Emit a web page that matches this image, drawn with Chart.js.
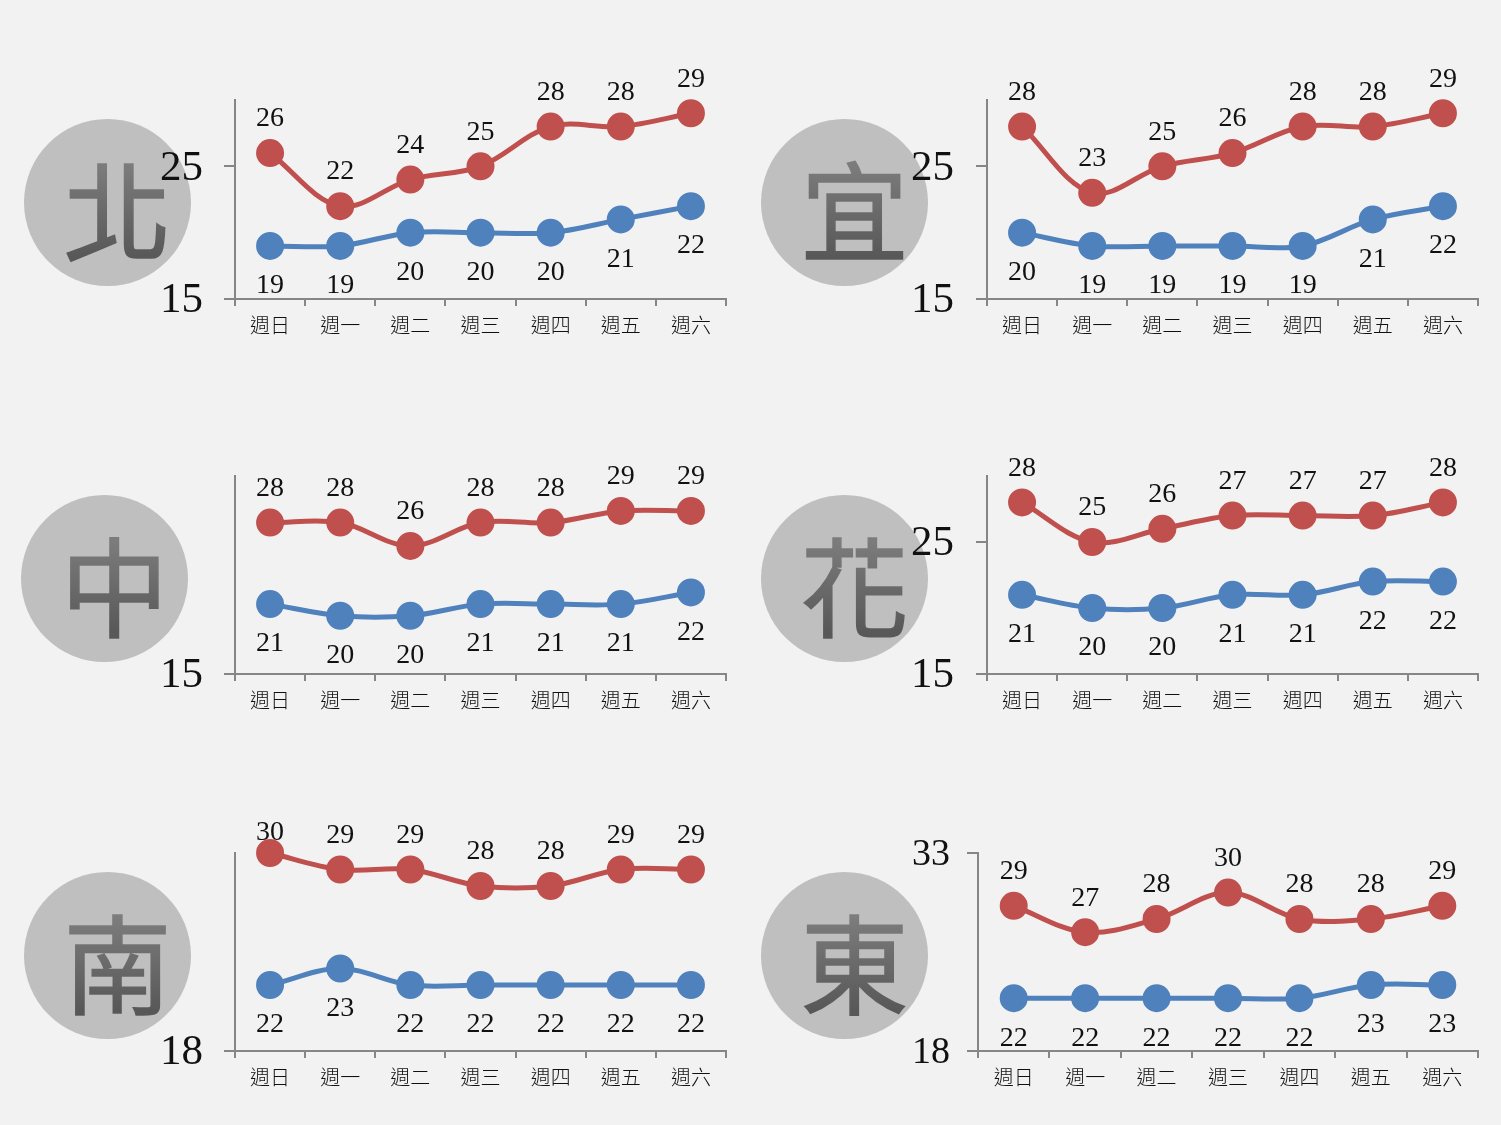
<!DOCTYPE html>
<html lang="zh-Hant">
<head>
<meta charset="utf-8">
<title>一週氣溫</title>
<script src="https://cdn.jsdelivr.net/npm/chart.js@4"></script>
<style>
  html, body { margin: 0; padding: 0; background: #F2F2F2; }
  #stage { position: relative; width: 1501px; height: 1125px; overflow: hidden; background: #F2F2F2; }
  .disc { position: absolute; width: 167px; height: 167px; border-radius: 50%; background: #BFBFBF; }
  .glyph {
    position: absolute; left: 10px; top: 4px; width: 167px; height: 167px;
    text-align: center;
    font: 108px/167px "Noto Sans CJK TC", sans-serif;
    -webkit-text-stroke: 1.5px transparent;
    background: linear-gradient(to bottom, #7C7C7C 25%, #585858 80%);
    -webkit-background-clip: text; background-clip: text; color: transparent;
  }
  canvas { position: absolute; }
</style>
</head>
<body>
<div id="stage"></div>
<script>
const days = ["週日", "週一", "週二", "週三", "週四", "週五", "週六"];

const beiHigh = [26, 22, 24, 25, 28, 28, 29];
const beiLow = [19, 19, 20, 20, 20, 21, 22];
const yiHigh = [28, 23, 25, 26, 28, 28, 29];
const yiLow = [20, 19, 19, 19, 19, 21, 22];
const zhongHigh = [28, 28, 26, 28, 28, 29, 29];
const zhongLow = [21, 20, 20, 21, 21, 21, 22];
const huaHigh = [28, 25, 26, 27, 27, 27, 28];
const huaLow = [21, 20, 20, 21, 21, 22, 22];
const nanHigh = [30, 29, 29, 28, 28, 29, 29];
const nanLow = [22, 23, 22, 22, 22, 22, 22];
const dongHigh = [29, 27, 28, 30, 28, 28, 29];
const dongLow = [22, 22, 22, 22, 22, 23, 23];

const serif = '"Liberation Serif", "Noto Sans CJK TC", serif';
const axisGray = "#868686";

// plot box, disc position and axis range of each panel
const panels = [
  { name: "北", high: beiHigh, low: beiLow, plot: [235, 100, 491, 199], disc: [24, 119], min: 15, max: 30, ticks: [15, 25], pad: 21, size: 43 },
  { name: "宜", high: yiHigh, low: yiLow, plot: [987, 100, 491, 199], disc: [761, 119], min: 15, max: 30, ticks: [15, 25], pad: 22, size: 43 },
  { name: "中", high: zhongHigh, low: zhongLow, plot: [235, 476, 491, 198], disc: [21, 495], min: 15, max: 32, ticks: [15], pad: 21, size: 43 },
  { name: "花", high: huaHigh, low: huaLow, plot: [987, 476, 491, 198], disc: [761, 495], min: 15, max: 30, ticks: [15, 25], pad: 22, size: 43 },
  { name: "南", high: nanHigh, low: nanLow, plot: [235, 853, 491, 198], disc: [24, 872], min: 18, max: 30, ticks: [18], pad: 21, size: 43 },
  { name: "東", high: dongHigh, low: dongLow, plot: [978, 853, 500, 198], disc: [761, 872], min: 18, max: 33, ticks: [18, 33], pad: 17, size: 38 }
];

const LEFT = 100, TOP = 60, BOTTOM = 50, RIGHT = 12;

// values above the red line and below the blue one
const valueLabels = {
  id: "valueLabels",
  afterDatasetsDraw(chart) {
    const ctx = chart.ctx;
    const top = chart.chartArea.top;
    ctx.save();
    ctx.font = "28px " + serif;
    ctx.fillStyle = "#111";
    ctx.textAlign = "center";
    ctx.textBaseline = "middle";
    chart.data.datasets.forEach((ds, i) => {
      chart.getDatasetMeta(i).data.forEach((pt, j) => {
        const y = ds.above ? Math.max(pt.y - 34, top - 20) : pt.y + 40;
        ctx.fillText(ds.data[j], pt.x, y);
      });
    });
    ctx.restore();
  }
};

function series(values, color, above) {
  return {
    data: values,
    above: above,
    borderColor: color,
    backgroundColor: color,
    borderWidth: 5,
    pointRadius: 11.5,
    pointHoverRadius: 11.5,
    tension: 0.35,
    clip: false
  };
}

const stage = document.getElementById("stage");

panels.forEach(p => {
  const disc = document.createElement("div");
  disc.className = "disc";
  disc.style.left = p.disc[0] + "px";
  disc.style.top = p.disc[1] + "px";
  const glyph = document.createElement("div");
  glyph.className = "glyph";
  glyph.textContent = p.name;
  disc.appendChild(glyph);
  stage.appendChild(disc);
});

panels.forEach(p => {
  const [x, y, w, h] = p.plot;
  const box = document.createElement("div");
  box.style.cssText = `position:absolute;left:${x - LEFT}px;top:${y - TOP}px;width:${w + LEFT + RIGHT}px;height:${h + TOP + BOTTOM}px`;
  const canvas = document.createElement("canvas");
  box.appendChild(canvas);
  stage.appendChild(box);

  new Chart(canvas, {
    type: "line",
    data: {
      labels: days,
      datasets: [series(p.high, "#C0504D", true), series(p.low, "#4F81BD", false)]
    },
    options: {
      responsive: true,
      maintainAspectRatio: false,
      animation: false,
      events: [],
      layout: { autoPadding: false, padding: { top: TOP, right: RIGHT, left: 0, bottom: 0 } },
      plugins: { legend: { display: false }, tooltip: { enabled: false } },
      scales: {
        x: {
          offset: true,
          afterFit: s => { s.height = BOTTOM; },
          border: { color: axisGray, width: 2 },
          grid: { offset: true, drawOnChartArea: false, color: axisGray, lineWidth: 2, tickLength: 7 },
          ticks: { color: "#111", font: { family: serif, size: 20, weight: 300 }, padding: 10, maxRotation: 0, autoSkip: false }
        },
        y: {
          min: p.min,
          max: p.max,
          afterFit: s => { s.width = LEFT; },
          afterBuildTicks: s => { s.ticks = p.ticks.map(v => ({ value: v })); },
          border: { color: axisGray, width: 2 },
          grid: { drawOnChartArea: false, color: axisGray, lineWidth: 2, tickLength: 11 },
          // blank first line nudges the number down onto the tick
          ticks: {
            color: "#111",
            font: { family: serif, size: p.size, lineHeight: "4px" },
            padding: p.pad,
            callback: v => ["", String(v)]
          }
        }
      }
    },
    plugins: [valueLabels]
  });
});
</script>
</body>
</html>
